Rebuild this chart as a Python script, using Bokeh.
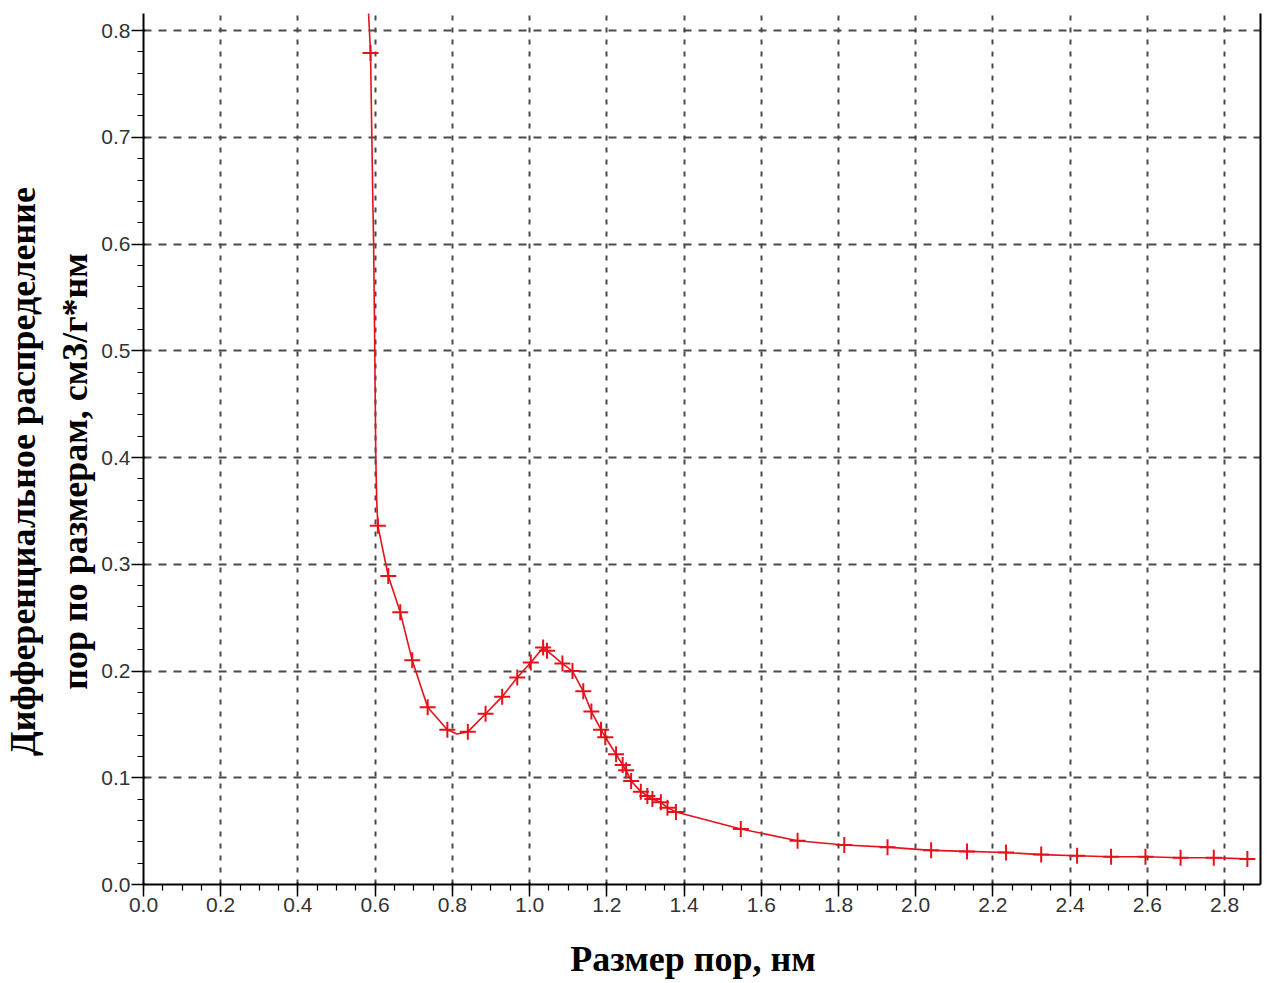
from bokeh.plotting import figure
from bokeh.models import (Range1d, LinearAxis, SingleIntervalTicker, FixedTicker,
                          PrintfTickFormatter, ColumnDataSource)
from bokeh.embed import file_html
from bokeh.resources import INLINE

# Pore size distribution: measured points (markers)
pore_size = [0.588, 0.607, 0.634, 0.665, 0.696, 0.736, 0.787, 0.840, 0.886, 0.929,
             0.968, 1.003, 1.035, 1.045, 1.085, 1.111, 1.139, 1.160, 1.185, 1.196,
             1.224, 1.241, 1.250, 1.263, 1.288, 1.305, 1.318, 1.340, 1.357, 1.379,
             1.547, 1.694, 1.815, 1.927, 2.040, 2.133, 2.234, 2.325, 2.418, 2.506,
             2.595, 2.686, 2.772, 2.859]
dv_dd = [0.779, 0.336, 0.289, 0.255, 0.210, 0.166, 0.145, 0.143, 0.160, 0.176,
         0.194, 0.208, 0.222, 0.219, 0.207, 0.200, 0.181, 0.162, 0.145, 0.138,
         0.122, 0.112, 0.107, 0.097, 0.087, 0.083, 0.080, 0.077, 0.072, 0.068,
         0.052, 0.041, 0.037, 0.035, 0.032, 0.031, 0.030, 0.028, 0.027, 0.026,
         0.026, 0.025, 0.025, 0.024]

# Fitted curve through the distribution
curve_x = [0.581, 0.588, 0.594, 0.596, 0.599, 0.6016, 0.604, 0.607, 0.634, 0.665,
           0.696, 0.736, 0.787, 0.812, 0.840, 0.886, 0.929, 0.968, 1.003, 1.035,
           1.045, 1.085, 1.111, 1.139, 1.160, 1.185, 1.196, 1.224, 1.241, 1.250,
           1.263, 1.288, 1.305, 1.318, 1.340, 1.357, 1.379, 1.547, 1.694, 1.815,
           1.927, 2.040, 2.133, 2.234, 2.325, 2.418, 2.506, 2.595, 2.686, 2.772,
           2.859, 2.878]
curve_y = [0.830, 0.779, 0.640, 0.600, 0.500, 0.400, 0.360, 0.336, 0.289, 0.255,
           0.210, 0.166, 0.145, 0.141, 0.143, 0.160, 0.176, 0.194, 0.208, 0.222,
           0.219, 0.207, 0.200, 0.181, 0.162, 0.145, 0.138, 0.122, 0.112, 0.107,
           0.097, 0.087, 0.083, 0.080, 0.077, 0.072, 0.068, 0.052, 0.041, 0.037,
           0.035, 0.032, 0.031, 0.030, 0.028, 0.027, 0.026, 0.026, 0.025, 0.025,
           0.024, 0.0237]

x_label = "Размер пор, нм"
y_label_lines = ["Дифференциальное распределение", "пор по размерам, см3/г*нм"]

RED = "#e8101a"
GRID = "#4a4a4a"
NBSP = "\u00a0"

p = figure(width=1273, height=983,
           x_range=Range1d(0, 2.893), y_range=Range1d(0, 0.816),
           output_backend="svg", toolbar_location=None,
           x_axis_location=None, y_axis_location=None,
           min_border_left=143, min_border_right=13,
           min_border_top=13, min_border_bottom=99)
p.outline_line_color = None
p.background_fill_color = "white"
p.border_fill_color = "white"

x_ticker = SingleIntervalTicker(interval=0.2, num_minor_ticks=4)
y_ticker = SingleIntervalTicker(interval=0.1, num_minor_ticks=5)

# trailing no-break spaces nudge the centred titles off the frame centre
xaxis = LinearAxis(ticker=x_ticker, axis_label=x_label + NBSP * 2)
yaxis = LinearAxis(ticker=y_ticker,
                   axis_label="\n".join(line + NBSP * 5 for line in y_label_lines))
for ax in (xaxis, yaxis):
    ax.formatter = PrintfTickFormatter(format="%.1f")
    ax.axis_line_width = 2
    ax.axis_line_color = "black"
    ax.major_tick_line_color = "black"
    ax.major_tick_line_width = 1.5
    ax.major_tick_out = 12
    ax.major_tick_in = 2
    ax.minor_tick_line_color = "black"
    ax.minor_tick_line_width = 1.2
    ax.minor_tick_out = 6
    ax.minor_tick_in = 0
    ax.major_label_text_font = "Liberation Sans"
    ax.major_label_text_font_size = "21px"
    ax.major_label_text_color = "#333333"
    ax.major_label_standoff = 1
    ax.axis_label_text_font = "Liberation Serif"
    ax.axis_label_text_font_style = "bold"
    ax.axis_label_text_font_size = "36px"
    ax.axis_label_text_color = "black"
xaxis.axis_label_standoff = 24
xaxis.axis_label_text_line_height = 1.0
yaxis.axis_label_standoff = 3
yaxis.axis_label_text_line_height = 1.3
p.add_layout(xaxis, "below")
p.add_layout(yaxis, "left")

# right-hand frame line
right = LinearAxis(ticker=FixedTicker(ticks=[]), axis_line_width=2,
                   axis_line_color="black", major_label_text_font_size="0px")
p.add_layout(right, "right")

p.xgrid.ticker = x_ticker
p.ygrid.ticker = y_ticker
p.xgrid.grid_line_color = GRID
p.xgrid.grid_line_width = 2
p.xgrid.grid_line_dash = "5 7"
p.ygrid.grid_line_color = GRID
p.ygrid.grid_line_width = 2
p.ygrid.grid_line_dash = "8 7"

p.line(curve_x, curve_y, line_color=RED, line_width=1.6)
src = ColumnDataSource(dict(x=pore_size, y=dv_dd))
p.scatter("x", "y", source=src, marker="cross", size=16,
          line_color=RED, line_width=2)

open("out.html", "w").write(file_html(p, INLINE))
